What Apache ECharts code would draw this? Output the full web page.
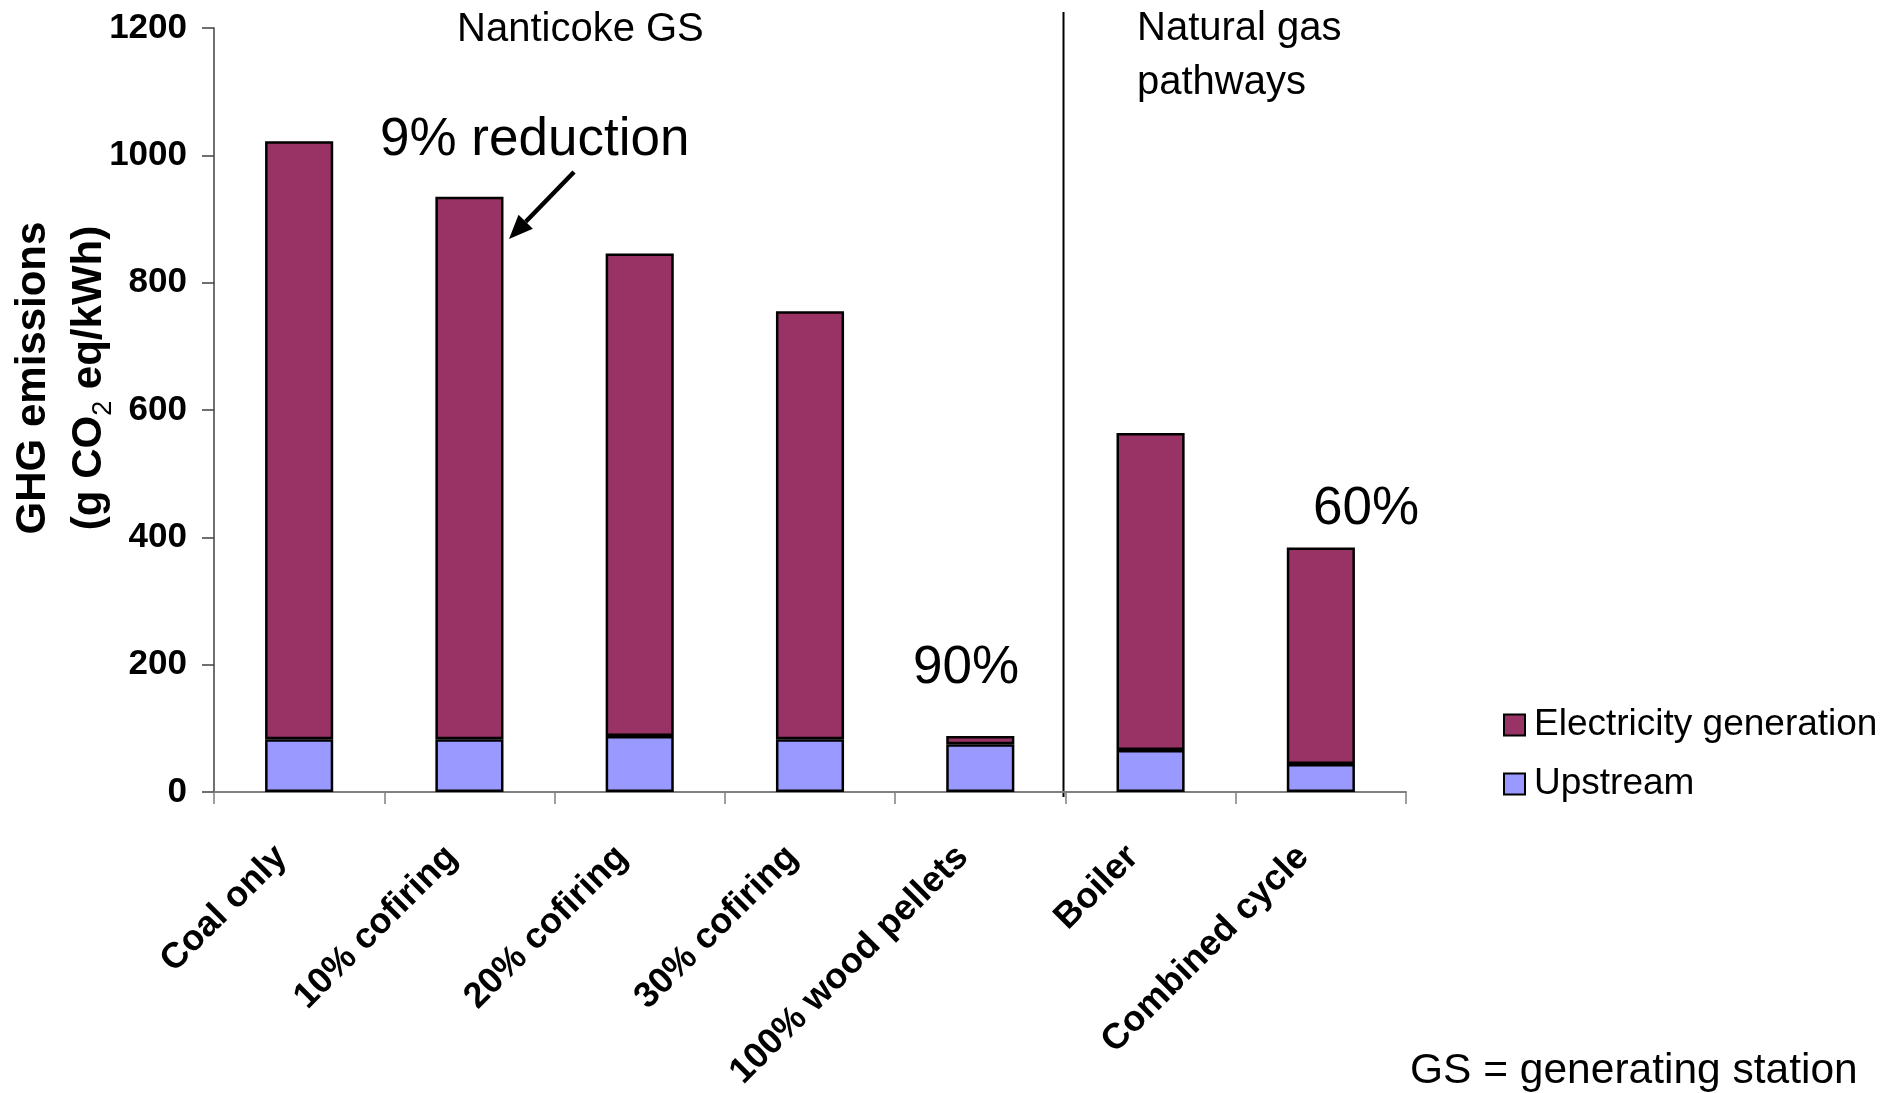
<!DOCTYPE html>
<html>
<head>
<meta charset="utf-8">
<script src="https://cdn.jsdelivr.net/npm/echarts@6/dist/echarts.min.js"></script>
<style>
  html, body { margin: 0; padding: 0; background: #ffffff; }
  #chart { width: 1894px; height: 1093px; }
</style>
</head>
<body>
<div id="chart"></div>
<script>
// Life-cycle GHG emissions per kWh by generation pathway (g CO2 eq/kWh)
const categories = ['Coal only', '10% cofiring', '20% cofiring', '30% cofiring', '100% wood pellets', 'Boiler', 'Combined cycle'];
const upstream = [83, 83, 88, 83, 75, 66, 44];
const electricityGeneration = [939, 852, 758, 672, 13, 498, 340];
const yMin = 0;
const yMax = 1200;
const yStep = 200;

const FONT = "'Liberation Sans', Arial, Helvetica, sans-serif";
const ELEC_COLOR = '#993366';
const UP_COLOR = '#9999ff';

const chart = echarts.init(document.getElementById('chart'), null, { renderer: 'canvas' });

const barBase = {
  type: 'bar',
  stack: 'total',
  barWidth: '40%',
  itemStyle: { borderColor: '#000000', borderWidth: 2.5 },
  emphasis: { disabled: true },
  animation: false
};

chart.setOption({
  backgroundColor: '#ffffff',
  animation: false,
  grid: { left: 214, right: 488, top: 28, bottom: 301, outerBoundsMode: 'none', containLabel: false },
  legend: {
    orient: 'vertical',
    left: 1498,
    top: 700,
    itemWidth: 21,
    itemHeight: 21,
    itemGap: 19,
    icon: 'rect',
    selectedMode: false,
    data: ['Electricity generation', 'Upstream'],
    textStyle: { fontFamily: FONT, fontSize: 37, color: '#000', lineHeight: 40, padding: [0, 0, 0, 4] }
  },
  xAxis: {
    type: 'category',
    data: categories,
    boundaryGap: true,
    axisLine: { show: true, lineStyle: { color: '#808080', width: 2 } },
    axisTick: { show: true, length: 12, inside: false, lineStyle: { color: '#808080', width: 1.5 } },
    axisLabel: {
      interval: 0,
      rotate: 45,
      margin: 42,
      padding: [0, 25, 0, 0],
      fontFamily: FONT,
      fontWeight: 'bold',
      fontSize: 36,
      color: '#000'
    },
    splitLine: { show: false }
  },
  yAxis: {
    type: 'value',
    min: yMin,
    max: yMax,
    interval: yStep,
    axisLine: { show: true, lineStyle: { color: '#404040', width: 1.5 } },
    axisTick: { show: true, length: 12, inside: false, lineStyle: { color: '#404040', width: 1.5 } },
    axisLabel: {
      margin: 27,
      fontFamily: FONT,
      fontWeight: 'bold',
      fontSize: 35,
      color: '#000',
      formatter: function (v) { return String(v); }
    },
    splitLine: { show: false }
  },
  series: [
    Object.assign({}, barBase, { name: 'Upstream', data: upstream, itemStyle: Object.assign({}, barBase.itemStyle, { color: UP_COLOR }) }),
    Object.assign({}, barBase, { name: 'Electricity generation', data: electricityGeneration, itemStyle: Object.assign({}, barBase.itemStyle, { color: ELEC_COLOR }) })
  ]
});

// Divider between the coal-station group and the natural gas group,
// placed on the category boundary between the last coal case and "Boiler".
const xLeft = chart.convertToPixel({ xAxisIndex: 0 }, 4);
const xRight = chart.convertToPixel({ xAxisIndex: 0 }, 5);
const dividerX = Math.round((xLeft + xRight) / 2) - 1.5;
const axisZeroY = chart.convertToPixel({ yAxisIndex: 0 }, 0);

// Arrow pointing at the 10% cofiring bar
const tip = [509, 239];
const tail = [574, 172];
const dx = tip[0] - tail[0], dy = tip[1] - tail[1];
const len = Math.sqrt(dx * dx + dy * dy);
const ux = dx / len, uy = dy / len;
const headLen = 24, headHalf = 10;
const base = [tip[0] - ux * headLen, tip[1] - uy * headLen];
const px = -uy * headHalf, py = ux * headHalf;

function label(text, x, y, size, extra) {
  return Object.assign({
    type: 'text',
    x: x,
    y: y,
    silent: true,
    style: {
      text: text,
      font: size + 'px ' + FONT,
      fill: '#000',
      textAlign: 'left',
      textVerticalAlign: 'middle'
    }
  }, extra || {});
}

chart.setOption({
  graphic: [
    {
      type: 'line',
      silent: true,
      shape: { x1: dividerX, y1: 12, x2: dividerX, y2: axisZeroY + 5 },
      style: { stroke: '#000', lineWidth: 2 }
    },
    label('Nanticoke GS', 457, 30, 40),
    {
      type: 'text',
      x: 1137,
      y: 56,
      silent: true,
      style: {
        text: 'Natural gas\npathways',
        font: '40px ' + FONT,
        fill: '#000',
        lineHeight: 54,
        textAlign: 'left',
        textVerticalAlign: 'middle'
      }
    },
    label('9% reduction', 380, 140, 53),
    label('90%', 913, 668, 53),
    label('60%', 1313, 509, 53),
    label('GS = generating station', 1410, 1071, 42.5),
    {
      type: 'line',
      silent: true,
      shape: { x1: tail[0], y1: tail[1], x2: base[0], y2: base[1] },
      style: { stroke: '#000', lineWidth: 4.5 }
    },
    {
      type: 'polygon',
      silent: true,
      shape: { points: [tip, [base[0] + px, base[1] + py], [base[0] - px, base[1] - py]] },
      style: { fill: '#000' }
    },
    {
      type: 'text',
      x: 61,
      y: 378,
      rotation: Math.PI / 2,
      silent: true,
      style: {
        text: 'GHG emissions\n(g CO{sub|2} eq/kWh)',
        font: 'bold 42px ' + FONT,
        fill: '#000',
        lineHeight: 56,
        textAlign: 'center',
        textVerticalAlign: 'middle',
        rich: {
          sub: {
            fontFamily: FONT,
            fontWeight: 'normal',
            fontSize: 27,
            lineHeight: 36,
            verticalAlign: 'bottom',
            fill: '#000'
          }
        }
      }
    }
  ]
});
</script>
</body>
</html>
